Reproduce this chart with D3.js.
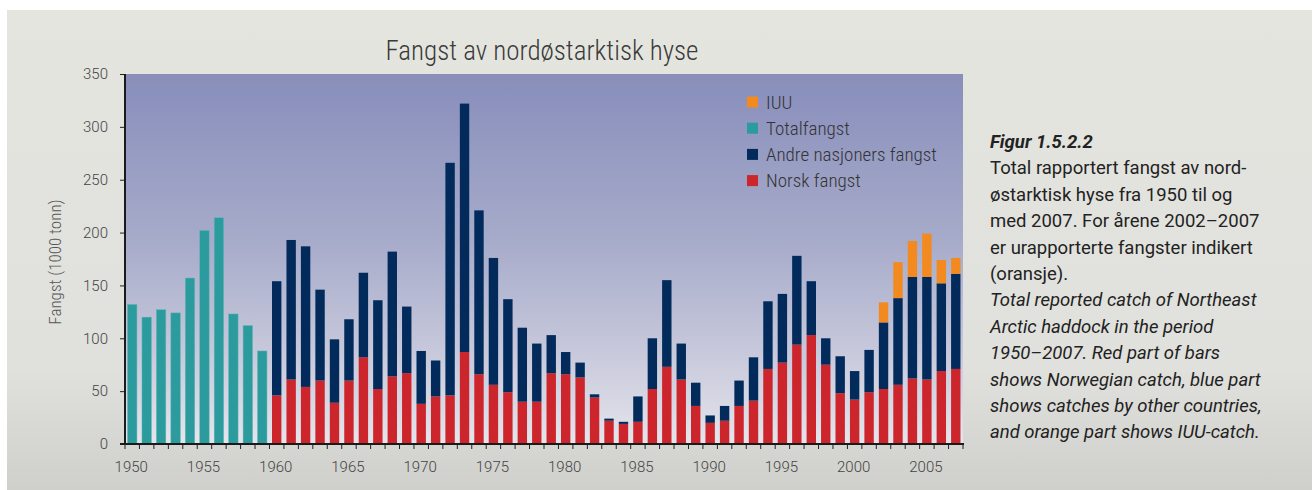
<!DOCTYPE html>
<html>
<head>
<meta charset="utf-8">
<script src="https://cdn.jsdelivr.net/npm/d3@7"></script>
<style>
  body { margin: 0; background: #fff; }
  svg { display: block; }
  .narrow { font-family: "Liberation Sans Narrow", "Roboto Condensed", "DejaVu Sans Condensed", sans-serif; }
  .txt { font-family: Roboto, "Liberation Sans", sans-serif; }
</style>
</head>
<body>
<div id="container"></div>
<script>
// years on the x axis
let years = d3.range(1950, 2008);
let tickYears = [1950, 1955, 1960, 1965, 1970, 1975, 1980, 1985, 1990, 1995, 2000, 2005];
let yTicks = [0, 50, 100, 150, 200, 250, 300, 350];

// 1950-1959: only total catch known (1000 tonn)
let totalYears = d3.range(1950, 1960);
let totalfangst = [132, 120, 127, 124, 157, 202, 214, 123, 112, 88];

// 1960-2007: norsk + andre nasjoner
let splitYears = d3.range(1960, 2008);
let norsk = [46, 61, 54, 60, 39, 60, 82, 52, 64, 67,
             38, 45, 46, 87, 66, 56, 49, 40, 40, 67,
             66, 63, 44, 22, 19, 21, 52, 73, 61, 36,
             20, 22, 36, 41, 71, 77, 94, 103, 75, 48,
             42, 49, 52, 56, 62, 61, 69, 71];
let andre = [108, 132, 133, 86, 60, 58, 80, 84, 118, 63,
             50, 34, 220, 235, 155, 120, 88, 70, 55, 36,
             21, 14, 3, 2, 2, 24, 48, 82, 34, 22,
             7, 14, 24, 41, 64, 65, 84, 51, 25, 35,
             27, 40, 63, 82, 96, 97, 83, 90];

// 2002-2007: IUU (urapportert)
let iuuYears = [2002, 2003, 2004, 2005, 2006, 2007];
let iuu = [19, 34, 34, 41, 22, 15];

let legendItems = [
  {label: "IUU", color: "#f28a20"},
  {label: "Totalfangst", color: "#2c9b9e"},
  {label: "Andre nasjoners fangst", color: "#022b5c"},
  {label: "Norsk fangst", color: "#cc252b"}
];

let captionLines = [
  {t: "Figur 1.5.2.2", style: "italic", weight: "bold"},
  {t: "Total rapportert fangst av nord-", style: "normal", weight: "normal"},
  {t: "østarktisk hyse fra 1950 til og", style: "normal", weight: "normal"},
  {t: "med 2007. For årene 2002–2007", style: "normal", weight: "normal"},
  {t: "er urapporterte fangster indikert", style: "normal", weight: "normal"},
  {t: "(oransje).", style: "normal", weight: "normal"},
  {t: "Total reported catch of Northeast", style: "italic", weight: "normal"},
  {t: "Arctic haddock in the period", style: "italic", weight: "normal"},
  {t: "1950–2007. Red part of bars", style: "italic", weight: "normal"},
  {t: "shows Norwegian catch, blue part", style: "italic", weight: "normal"},
  {t: "shows catches by other countries,", style: "italic", weight: "normal"},
  {t: "and orange part shows IUU-catch.", style: "italic", weight: "normal"}
];

let w = 1314, h = 490;
let pLeft = 125, pRight = 963, pTop = 74, pBottom = 444;

let svg = d3.select("#container")
  .append("svg")
    .attr("width", w)
    .attr("height", h)
;

let defs = svg.append("defs");
let panelGrad = defs.append("linearGradient").attr("id", "panelGrad")
  .attr("x1", 0).attr("y1", 0).attr("x2", 0).attr("y2", 1);
panelGrad.append("stop").attr("offset", "0%").attr("stop-color", "#e5e5e0");
panelGrad.append("stop").attr("offset", "75%").attr("stop-color", "#e0e0dc");
panelGrad.append("stop").attr("offset", "100%").attr("stop-color", "#cfcfcb");

let plotGrad = defs.append("linearGradient").attr("id", "plotGrad")
  .attr("x1", 0).attr("y1", 0).attr("x2", 0).attr("y2", 1);
plotGrad.append("stop").attr("offset", "0%").attr("stop-color", "#8a8fb8");
plotGrad.append("stop").attr("offset", "5%").attr("stop-color", "#8b91bd");
plotGrad.append("stop").attr("offset", "45%").attr("stop-color", "#a7abca");
plotGrad.append("stop").attr("offset", "75%").attr("stop-color", "#c7c8db");
plotGrad.append("stop").attr("offset", "100%").attr("stop-color", "#e5e5ec");

// grey panel
svg.append("rect")
  .attr("x", 7).attr("y", 10)
  .attr("width", 1305).attr("height", h - 10)
  .attr("fill", "url(#panelGrad)");

// plot background
svg.append("rect")
  .attr("x", pLeft).attr("y", pTop)
  .attr("width", pRight - pLeft).attr("height", pBottom - pTop)
  .attr("fill", "url(#plotGrad)");

let x = d3.scaleBand()
  .domain(years)
  .range([pLeft, pRight])
  .paddingInner(0.35)
  .paddingOuter(0.175);

let y = d3.scaleLinear()
  .domain([0, 350])
  .range([pBottom, pTop]);

let bars = svg.append("g").attr("class", "bars");

// teal totals
bars.selectAll(".total").data(totalYears).enter()
  .append("rect")
    .attr("class", "total")
    .attr("x", d => x(d))
    .attr("width", x.bandwidth())
    .attr("y", (d, i) => y(totalfangst[i]))
    .attr("height", (d, i) => y(0) - y(totalfangst[i]))
    .attr("fill", legendItems[1].color)
    .attr("stroke", "#5fb3b6").attr("stroke-width", 0.5)
;

// stacked norsk / andre / iuu
let stackRows = splitYears.map((yr, i) => {
  let k = iuuYears.indexOf(yr);
  return {year: yr, norsk: norsk[i], andre: andre[i], iuu: k >= 0 ? iuu[k] : 0};
});
let stack = d3.stack().keys(["norsk", "andre", "iuu"])(stackRows);
let stackColors = {norsk: legendItems[3].color, andre: legendItems[2].color, iuu: legendItems[0].color};

stack.forEach(layer => {
  bars.append("g")
    .attr("fill", stackColors[layer.key])
    .selectAll("rect").data(layer.filter(d => d[1] > d[0])).enter()
    .append("rect")
      .attr("x", d => x(d.data.year))
      .attr("width", x.bandwidth())
      .attr("y", d => y(d[1]))
      .attr("height", d => y(d[0]) - y(d[1]))
  ;
});

// axes
let step = x.step();
let boundaries = years.map(d => x(d) - step * x.paddingInner() / 2).concat([pRight]);

svg.append("g").selectAll("line").data(boundaries).enter()
  .append("line")
    .attr("x1", d => d).attr("x2", d => d)
    .attr("y1", pBottom).attr("y2", pBottom + 5)
    .attr("stroke", "#222").attr("stroke-width", 1);

svg.append("g").selectAll("text").data(tickYears).enter()
  .append("text")
    .attr("class", "txt")
    .attr("x", d => x(d) + x.bandwidth() / 2 - 1)
    .attr("y", 472)
    .attr("text-anchor", "middle")
    .attr("font-size", 15)
    .attr("font-weight", 300)
    .attr("fill", "#444")
    .text(d => d);

let yAxis = d3.axisLeft(y).tickValues(yTicks).tickSize(5).tickPadding(12);
let yg = svg.append("g").attr("transform", `translate(${pLeft},0)`).call(yAxis);
yg.select(".domain").remove();
yg.selectAll(".tick line").attr("stroke", "#222");
yg.selectAll(".tick text")
  .attr("class", "txt")
  .attr("font-size", 15)
  .attr("font-weight", 300)
  .attr("fill", "#444");

svg.append("line")
  .attr("x1", pLeft).attr("x2", pLeft)
  .attr("y1", pTop).attr("y2", pBottom + 1)
  .attr("stroke", "#1a1a1a").attr("stroke-width", 2);
svg.append("line")
  .attr("x1", pLeft - 5).attr("x2", pRight + 1)
  .attr("y1", pBottom).attr("y2", pBottom)
  .attr("stroke", "#1a1a1a").attr("stroke-width", 2);

// y label
svg.append("text")
  .attr("class", "narrow")
  .attr("transform", "translate(61,262) rotate(-90)")
  .attr("text-anchor", "middle")
  .attr("font-size", 17)
  .attr("font-weight", 300)
  .attr("fill", "#555")
  .text("Fangst (1000 tonn)");

// title
svg.append("text")
  .attr("class", "narrow")
  .attr("x", 542).attr("y", 60)
  .attr("text-anchor", "middle")
  .attr("font-size", 27)
  .attr("font-weight", 300)
  .attr("fill", "#3a3a3a")
  .text("Fangst av nordøstarktisk hyse");

// legend
let legend = svg.append("g").attr("transform", "translate(747,102)");
let li = legend.selectAll("g").data(legendItems).enter()
  .append("g")
    .attr("transform", (d, i) => `translate(0,${i * 26.2})`);
li.append("rect")
  .attr("x", 0).attr("y", -5.5)
  .attr("width", 11).attr("height", 11)
  .attr("fill", d => d.color);
li.append("text")
  .attr("class", "narrow")
  .attr("x", 19).attr("y", 6.5)
  .attr("font-size", 19)
  .attr("font-weight", 300)
  .attr("fill", "#333")
  .text(d => d.label);

// caption
svg.append("g").selectAll("text").data(captionLines).enter()
  .append("text")
    .attr("class", "txt")
    .attr("x", 990)
    .attr("y", (d, i) => 148 + i * 26.4)
    .attr("font-size", 18.5)
    .attr("font-style", d => d.style)
    .attr("font-weight", d => d.weight)
    .attr("fill", "#222")
    .text(d => d.t);
</script>
</body>
</html>
